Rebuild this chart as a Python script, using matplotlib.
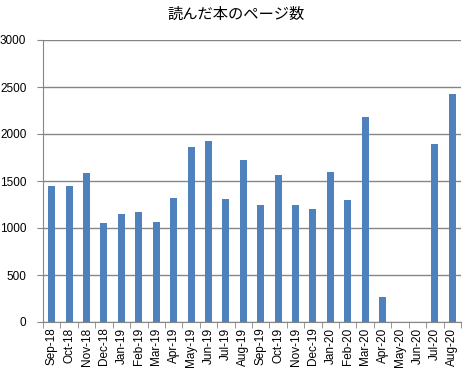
import matplotlib
matplotlib.use('Agg')
import matplotlib.pyplot as plt
import numpy as np

months = ['Sep-18', 'Oct-18', 'Nov-18', 'Dec-18', 'Jan-19', 'Feb-19', 'Mar-19',
          'Apr-19', 'May-19', 'Jun-19', 'Jul-19', 'Aug-19', 'Sep-19', 'Oct-19',
          'Nov-19', 'Dec-19', 'Jan-20', 'Feb-20', 'Mar-20', 'Apr-20', 'May-20',
          'Jun-20', 'Jul-20', 'Aug-20']
pages = [1450, 1450, 1585, 1055, 1150, 1170, 1065, 1320, 1860, 1925, 1310, 1720,
         1245, 1565, 1245, 1200, 1595, 1300, 2180, 265, 0, 0, 1895, 2425]
yticks = [0, 500, 1000, 1500, 2000, 2500, 3000]

plt.rcParams['font.family'] = ['Liberation Sans', 'DejaVu Sans']

fig = plt.figure(figsize=(4.72, 3.78), dpi=100)
ax = fig.add_axes([43/472, 56/378, 418/472, 282/378])

x = np.arange(len(months))
ax.bar(x, pages, width=0.4, color='#4f81bd', zorder=3)

ax.set_xlim(-0.5, len(months) - 0.5)
ax.set_ylim(0, 3000)
ax.set_yticks(yticks)
ax.set_yticklabels([str(v) for v in yticks], fontsize=8.5)
ax.yaxis.grid(True, color='#868686', linewidth=1, zorder=0)

ax.set_xticks(x)
ax.set_xticklabels(months, rotation=90, fontsize=8.5)
ax.tick_params(axis='x', length=0, pad=4)
ax.set_xticks(np.arange(-0.5, len(months), 1), minor=True)
ax.tick_params(axis='x', which='minor', length=4, color='#868686', direction='out')
ax.tick_params(axis='y', length=4, color='#868686', direction='out', pad=8)

for s in ['top', 'right']:
    ax.spines[s].set_visible(False)
for s in ['left', 'bottom']:
    ax.spines[s].set_color('#868686')

fig.text(0.5, 1 - 14/378, '読んだ本のページ数', ha='center', va='center',
         fontsize=11, family=['Noto Sans CJK JP', 'DejaVu Sans'])

fig.savefig('out.png', dpi=100)
